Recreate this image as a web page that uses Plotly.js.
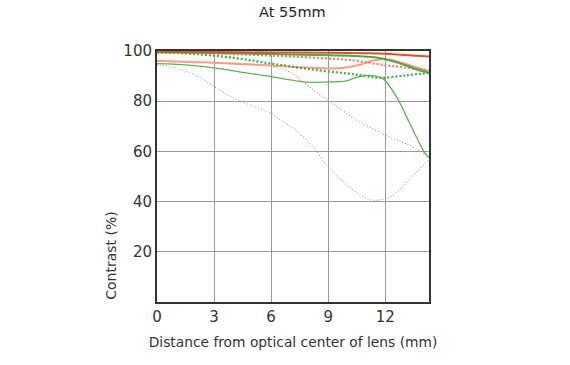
<!DOCTYPE html>
<html>
<head>
<meta charset="utf-8">
<script src="https://cdn.plot.ly/plotly-3.0.1.min.js"></script>
<style>html,body{margin:0;padding:0;background:#fff;}#chart{width:570px;height:365px;}</style>
</head>
<body>
<div id="chart"></div>
<script>
// Distance from optical centre (mm) and contrast (%) for each curve
var redThickSolidX = [0, 3, 6, 9, 11, 12, 13, 14.3];
var redThickSolidY = [99.8, 99.6, 99.4, 99.3, 99.1, 98.9, 98.4, 97.8];

var greenThickSolidX = [0, 3, 6, 9, 10.5, 11.7, 12.8, 13.8, 14.3];
var greenThickSolidY = [99.5, 99.2, 98.8, 98.3, 98.0, 97.2, 95.0, 92.3, 91.3];

var redThickDotX = [0, 3, 5, 7, 9, 10, 11, 12, 13, 14.3];
var redThickDotY = [99.5, 99.0, 98.5, 97.8, 97.0, 96.5, 95.5, 94.3, 93.5, 92.3];

var greenThickDotX = [0, 2, 4, 6, 8, 10, 11, 11.7, 13.1, 14.3];
var greenThickDotY = [99.6, 98.8, 97.3, 95.0, 92.8, 91.0, 90.0, 89.3, 90.3, 91.3];

var redThinSolidX = [0, 3, 6, 8, 9.6, 10.5, 11.5, 12.2, 13, 14.3];
var redThinSolidY = [96.0, 95.3, 94.2, 93.4, 93.1, 94.2, 96.4, 96.6, 95.0, 91.8];

var greenThinSolidX = [0, 1.5, 3, 4.5, 6, 7, 7.8, 9, 9.9, 10.5, 11, 11.5, 11.9, 12.6, 13.3, 14.1, 14.3];
var greenThinSolidY = [95.0, 94.5, 93.3, 91.5, 89.8, 88.5, 87.6, 87.7, 88.0, 89.5, 90.3, 90.0, 88.9, 81.6, 71.0, 59.1, 57.5];

var redThinDotX = [0, 3, 5, 6, 7, 7.7, 8.3, 9, 10.5, 12, 13.1, 14.3];
var redThinDotY = [96.0, 95.5, 94.8, 94.0, 91.5, 87.5, 84.0, 80.3, 72.5, 66.5, 63.0, 58.0];

var greenThinDotX = [0, 1.2, 2.2, 2.9, 3.6, 4.3, 5.4, 6.0, 6.6, 7.3, 8.2, 9.0, 9.9, 10.7, 11.3, 11.8, 12.4, 13.4, 14.3];
var greenThinDotY = [94.5, 92.9, 89.6, 86.3, 83.0, 80.3, 77.0, 75.0, 72.0, 68.4, 61.8, 53.8, 47.2, 42.5, 40.6, 40.8, 42.5, 49.8, 56.8];

var xTicks = [0, 3, 6, 9, 12];
var yTicks = [20, 40, 60, 80, 100];

function tr(x, y, color, width, dash) {
  return {x: x, y: y, type: 'scatter', mode: 'lines',
    line: {color: color, width: width, dash: dash, shape: 'spline', smoothing: 1},
    hoverinfo: 'skip', showlegend: false};
}

var data = [
  tr(greenThinDotX, greenThinDotY, '#72c272', 1.1, '1px,2px'),
  tr(redThinDotX, redThinDotY, '#f07a5a', 1.1, '1px,2px'),
  tr(greenThinSolidX, greenThinSolidY, '#5cb35c', 1.3, 'solid'),
  tr(redThinSolidX, redThinSolidY, '#f4a08a', 2, 'solid'),
  tr(greenThickDotX, greenThickDotY, '#4aab4a', 2.3, '2px,2px'),
  tr(redThickDotX, redThickDotY, '#f08060', 2.3, '2px,2px'),
  tr(greenThickSolidX, greenThickSolidY, '#4aa84a', 2, 'solid'),
  tr(redThickSolidX, redThickSolidY, '#e2502a', 2, 'solid')
];

var font = '"DejaVu Sans", sans-serif';
var layout = {
  width: 570, height: 365,
  margin: {l: 157, r: 141, t: 51, b: 63},
  paper_bgcolor: '#ffffff', plot_bgcolor: '#ffffff',
  font: {family: font, color: '#333333', size: 14},
  title: {text: 'At 55mm', x: 0.513, xanchor: 'center', y: 0.967, yanchor: 'middle',
    font: {family: font, size: 14.5, color: '#222222'}},
  xaxis: {
    range: [0, 14.3], tickvals: xTicks, ticktext: xTicks.map(String),
    showgrid: true, gridcolor: '#9a9a9a', gridwidth: 1,
    showline: true, mirror: true, linecolor: '#333333', linewidth: 2,
    ticks: '', zeroline: false, fixedrange: true,
    tickfont: {size: 15, color: '#333333'},
    title: {text: 'Distance from optical center of lens (mm)', standoff: 12,
      font: {size: 13.8, color: '#333333'}}
  },
  yaxis: {
    range: [0, 100], tickvals: yTicks, ticktext: yTicks.map(String),
    showgrid: true, gridcolor: '#9a9a9a', gridwidth: 1,
    showline: true, mirror: true, linecolor: '#333333', linewidth: 2,
    ticks: '', zeroline: false, fixedrange: true,
    tickfont: {size: 15, color: '#333333'}
  },
  annotations: [{
    text: 'Contrast (%)', xref: 'paper', yref: 'paper', x: -0.172, y: 0,
    xanchor: 'center', yanchor: 'bottom', textangle: -90, showarrow: false,
    font: {size: 14, color: '#333333'}
  }]
};

Plotly.newPlot('chart', data, layout, {displayModeBar: false, staticPlot: true});
</script>
</body>
</html>
